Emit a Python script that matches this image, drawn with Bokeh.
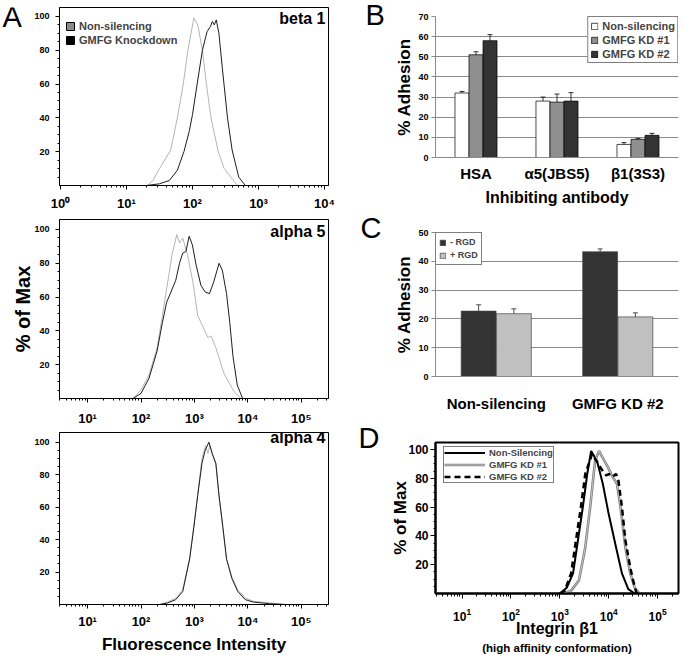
import math
import numpy as np
from bokeh.plotting import figure
from bokeh.models import (Range1d, FactorRange, FixedTicker, Label, Legend, LegendItem,
                          Whisker, TeeHead, ColumnDataSource, SingleIntervalTicker, Title)
from bokeh.layouts import row, column
from bokeh.transform import dodge
from bokeh.embed import file_html
from bokeh.resources import INLINE

FONT = "Liberation Sans"

# ---------------- data: panel A (flow histograms, log10 intensity / % of max) -------------
beta1_ns_log = [1.32, 1.4, 1.5, 1.67, 1.77, 1.86, 1.93, 2.02, 2.08, 2.15, 2.21, 2.28, 2.39, 2.48, 2.58, 2.68]
beta1_ns_pct = [0, 3, 10, 21, 40, 60, 80, 99, 95, 80, 60, 40, 20, 10, 5, 0]
beta1_kd_log = [1.3, 1.5, 1.65, 1.77, 1.87, 1.95, 2.0, 2.07, 2.15, 2.22, 2.27, 2.3, 2.33, 2.36, 2.4, 2.45, 2.53, 2.6, 2.7, 2.8]
beta1_kd_pct = [0, 1, 3, 9, 20, 32, 42, 60, 80, 91, 94, 97, 95, 98, 90, 70, 40, 21, 5, 0]

alpha5_ns_log = [1.85, 2.0, 2.15, 2.3, 2.4, 2.5, 2.58, 2.67, 2.72, 2.78, 2.87, 2.97, 3.06, 3.18, 3.25, 3.31, 3.4, 3.55, 3.74, 3.87]
alpha5_ns_pct = [0, 5, 14, 30, 49, 69, 85, 97, 92, 95, 85, 69, 49, 41, 36, 37, 30, 15, 4, 0]
alpha5_kd_log = [1.85, 2.0, 2.15, 2.3, 2.4, 2.48, 2.56, 2.65, 2.72, 2.78, 2.84, 2.9, 2.96, 3.03, 3.12, 3.2, 3.28, 3.36, 3.46, 3.52, 3.6, 3.66, 3.72, 3.8, 3.9]
alpha5_kd_pct = [0, 3, 12, 28, 45, 57, 63, 70, 80, 86, 87, 96, 91, 79, 67, 63, 62, 69, 80, 76, 62, 45, 25, 8, 0]

alpha4_ns_log = [2.35, 2.5, 2.65, 2.78, 2.91, 2.99, 3.06, 3.14, 3.21, 3.25, 3.29, 3.4, 3.46, 3.53, 3.6, 3.7, 3.81, 3.95, 4.1, 4.4, 4.7]
alpha4_ns_pct = [0, 1.5, 4, 9, 29, 49, 68, 90, 98, 93, 98, 86, 66, 47, 28, 17, 9, 4, 2, 1, 0]
alpha4_kd_log = [2.35, 2.5, 2.65, 2.78, 2.91, 2.99, 3.06, 3.14, 3.2, 3.27, 3.33, 3.4, 3.46, 3.53, 3.6, 3.7, 3.81, 3.95, 4.1, 4.4, 4.7]
alpha4_kd_pct = [0, 1, 3, 8, 28, 48, 67, 87, 95, 100, 93, 87, 67, 48, 28, 16, 8, 3, 1.5, 0.5, 0]

a_series = ["Non-silencing", "GMFG Knockdown"]

# ---------------- data: panel B ----------------
b_categories = ["HSA", "α5(JBS5)", "β1(3S3)"]
b_series = ["Non-silencing", "GMFG KD #1", "GMFG KD #2"]
b_nonsil = [32, 28, 6.5]
b_kd1 = [51, 27.5, 9]
b_kd2 = [58, 28, 11]
b_nonsil_err = [0.8, 2.0, 0.9]
b_kd1_err = [1.5, 4.0, 0.5]
b_kd2_err = [3.0, 4.2, 1.0]

# ---------------- data: panel C ----------------
c_categories = ["Non-silencing", "GMFG KD #2"]
c_series = ["- RGD", "+ RGD"]
c_minus_rgd = [22.7, 43.3]
c_plus_rgd = [21.8, 20.7]
c_minus_err = [2.2, 1.0]
c_plus_err = [1.7, 1.4]

# ---------------- data: panel D ----------------
d_series = ["Non-Silencing", "GMFG KD #1", "GMFG KD #2"]
d_ns_log = [3.0, 3.14, 3.27, 3.37, 3.47, 3.56, 3.64, 3.76, 3.88, 4.0, 4.15, 4.27, 4.4, 4.53]
d_ns_pct = [0, 4, 14, 37, 60, 83, 99, 92, 76, 55, 32, 14, 3, 0]
d_kd1_log = [3.05, 3.23, 3.39, 3.52, 3.62, 3.72, 3.8, 3.88, 3.98, 4.05, 4.1, 4.17, 4.24, 4.34, 4.44, 4.53, 4.63]
d_kd1_pct = [0, 2, 9, 32, 60, 92, 99, 94, 88, 83, 80, 76, 60, 32, 14, 4, 0]
d_kd2_log = [3.0, 3.1, 3.23, 3.33, 3.43, 3.52, 3.66, 3.75, 3.82, 3.9, 3.95, 4.0, 4.07, 4.15, 4.2, 4.27, 4.34, 4.44, 4.5, 4.56, 4.6]
d_kd2_pct = [0, 2, 14, 37, 60, 83, 97, 92, 88, 84, 82, 83, 81, 83, 78, 60, 37, 18, 9, 1, 0]

SUP = {0: "\u2070", 1: "\u00b9", 2: "\u00b2", 3: "\u00b3", 4: "\u2074", 5: "\u2075"}


def to_lin(logs):
    return [10 ** v for v in logs]


def make_fig(w, h, bl, br, bt, bb, **kw):
    p = figure(width=w, height=h, output_backend="svg", toolbar_location=None,
               min_border_left=bl, min_border_right=br, min_border_top=bt,
               min_border_bottom=bb, **kw)
    p.background_fill_color = "white"
    p.border_fill_color = "white"
    return p


def add_text(p, fl, fb, px, py, text, size, bold=True, align="center",
             baseline="middle", angle=0.0):
    p.add_layout(Label(x=px - fl, y=fb - py, x_units="screen", y_units="screen",
                       text=text, text_font=FONT, text_font_size=f"{size}px",
                       text_font_style="bold" if bold else "normal",
                       text_align=align, text_baseline=baseline, angle=angle,
                       text_color="black"))


def letter_fig(w, h):
    p = make_fig(w, h, 0, 0, 0, 0, x_range=Range1d(0, 1), y_range=Range1d(0, 1),
                 x_axis_location=None, y_axis_location=None)
    p.grid.visible = False
    p.outline_line_color = None
    return p


def style_axis_label(a, size, standoff):
    a.axis_label_text_font = FONT
    a.axis_label_text_font_size = f"{size}px"
    a.axis_label_text_font_style = "bold"
    a.axis_label_text_color = "black"
    a.axis_label_standoff = standoff


def flow_fig(w, h, bl, br, bt, bb, xlog0, xlog1, ytop, decades, xstand, lab_size,
             override=True, lw=1):
    p = make_fig(w, h, bl, br, bt, bb, x_axis_type="log",
                 x_range=Range1d(10 ** xlog0, 10 ** xlog1), y_range=Range1d(0, ytop))
    p.grid.visible = False
    p.outline_line_color = "black"
    p.outline_line_width = lw
    ax = p.xaxis[0]
    ay = p.yaxis[0]
    minors = [k * 10 ** dd for dd in range(min(decades) - 1, max(decades) + 1) for k in range(2, 10)]
    ax.ticker = FixedTicker(ticks=[10 ** dd for dd in decades], minor_ticks=minors)
    if override:
        ax.major_label_overrides = {10 ** dd: "10" + SUP[dd] for dd in decades}
    ay.ticker = FixedTicker(ticks=[20, 40, 60, 80, 100], minor_ticks=list(range(5, 105, 5)))
    for a in (ax, ay):
        a.axis_line_color = "black"
        a.axis_line_width = lw
        a.major_tick_line_color = "black"
        a.minor_tick_line_color = "black"
        a.major_tick_in = 0
        a.minor_tick_in = 0
        a.major_tick_out = 4
        a.minor_tick_out = 2
        a.major_label_text_font = FONT
        a.major_label_text_font_style = "bold"
        a.major_label_text_color = "black"
    ax.major_label_text_font_size = f"{lab_size}px"
    ax.major_label_standoff = xstand
    ay.major_label_text_font_size = "9px"
    ay.major_label_standoff = 6
    return p


NS_GRAY = "#b4b4b4"
KD_DARK = "#1e1e1e"

# ---------------- A1: beta 1 ----------------
# the letter plot's frame is aligned with a1's frame (top 7, bottom 185)
let_a = letter_fig(30, 218)
add_text(let_a, 0, 185, 2, 16, "A", 29, bold=False, align="left", baseline="middle")

a1 = flow_fig(310, 218, 29, 12, 7, 33, -0.015, 4.06, 105.3, [0, 1, 2, 3, 4], 6, 13)
a1.line(to_lin(beta1_ns_log), beta1_ns_pct, line_color=NS_GRAY, line_width=1)
a1.line(to_lin(beta1_kd_log), beta1_kd_pct, line_color=KD_DARK, line_width=1)
nan1 = np.array([np.nan])
q1 = a1.quad(left=nan1, right=nan1, top=nan1, bottom=nan1, fill_color="#8a8a8a", line_color="black")
q2 = a1.quad(left=nan1, right=nan1, top=nan1, bottom=nan1, fill_color="black", line_color="black")
leg_a = Legend(items=[LegendItem(label=a_series[0], renderers=[q1]),
                      LegendItem(label=a_series[1], renderers=[q2])],
               location=(6, 138), margin=0, padding=3, spacing=0,
               glyph_width=10, glyph_height=10, label_height=14, label_standoff=4,
               label_text_font=FONT, label_text_font_size="11px",
               label_text_font_style="bold", border_line_color=None,
               background_fill_alpha=0)
a1.add_layout(leg_a)
add_text(a1, 59, 185, 325, 18, "beta 1", 16, align="right")

# ---------------- A2: alpha 5 ----------------
a2 = flow_fig(340, 212, 59, 12, 1, 32, 0.475, 5.507, 105.9, [1, 2, 3, 4, 5], 8, 13)
a2.line(to_lin(alpha5_ns_log), alpha5_ns_pct, line_color=NS_GRAY, line_width=1)
a2.line(to_lin(alpha5_kd_log), alpha5_kd_pct, line_color=KD_DARK, line_width=1)
a2.yaxis[0].axis_label = "% of Max"
style_axis_label(a2.yaxis[0], 20, -3)
add_text(a2, 59, 398, 325, 231, "alpha 5", 16, align="right")

# ---------------- A3: alpha 4 ----------------
a3 = flow_fig(340, 226, 59, 12, 2, 46, 0.475, 5.507, 105.95, [1, 2, 3, 4, 5], 5, 13)
a3.line(to_lin(alpha4_ns_log), alpha4_ns_pct, line_color=NS_GRAY, line_width=1)
a3.line(to_lin(alpha4_kd_log), alpha4_kd_pct, line_color=KD_DARK, line_width=1)
a3.xaxis[0].axis_label = "Fluorescence Intensity"
style_axis_label(a3.xaxis[0], 17, 3)
add_text(a3, 59, 610, 325, 443, "alpha 4", 16, align="right")

# ---------------- B ----------------
GRID = "#8a8a8a"


def style_bar_axes(p, ysize="9px", xsize="15px", xstand=7):
    p.xgrid.visible = False
    p.ygrid.grid_line_color = GRID
    p.ygrid.grid_line_width = 1
    p.outline_line_color = None
    ay = p.yaxis[0]
    ax = p.xaxis[0]
    ay.ticker = SingleIntervalTicker(interval=10, num_minor_ticks=0)
    for a in (ax, ay):
        a.axis_line_color = GRID
        a.major_tick_line_color = GRID
        a.major_tick_in = 0
        a.major_label_text_font = FONT
        a.major_label_text_font_style = "bold"
        a.major_label_text_color = "black"
        a.minor_tick_line_color = None
    ay.major_tick_out = 4
    ay.major_label_text_font_size = ysize
    ay.major_label_standoff = 3
    ax.major_tick_line_color = None
    ax.major_tick_out = 0
    ax.major_label_text_font_size = xsize
    ax.major_label_standoff = xstand


let_bcd = letter_fig(48, 656)
add_text(let_bcd, 340, 656, 365, 14, "B", 29, bold=False, align="left", baseline="middle")
add_text(let_bcd, 340, 656, 360, 227, "C", 29, bold=False, align="left", baseline="middle")
add_text(let_bcd, 340, 656, 358, 437, "D", 29, bold=False, align="left", baseline="middle")

b = make_fig(296, 208, 46, 6, 16, 50, x_range=FactorRange(factors=b_categories, range_padding=0),
             y_range=Range1d(0, 70))
style_bar_axes(b, xsize="15px", xstand=7)
b.yaxis[0].axis_label = "% Adhesion"
style_axis_label(b.yaxis[0], 17, 1)
b.xaxis[0].axis_label = "Inhibiting antibody"
style_axis_label(b.xaxis[0], 16, 4)
bsrc = ColumnDataSource(dict(
    cat=b_categories, ns=b_nonsil, kd1=b_kd1, kd2=b_kd2,
    ns_lo=[m - e for m, e in zip(b_nonsil, b_nonsil_err)], ns_hi=[m + e for m, e in zip(b_nonsil, b_nonsil_err)],
    kd1_lo=[m - e for m, e in zip(b_kd1, b_kd1_err)], kd1_hi=[m + e for m, e in zip(b_kd1, b_kd1_err)],
    kd2_lo=[m - e for m, e in zip(b_kd2, b_kd2_err)], kd2_hi=[m + e for m, e in zip(b_kd2, b_kd2_err)],
))
BW = 0.173
b_cols = [("ns", "white", -BW), ("kd1", "#8f8f8f", 0.0), ("kd2", "#333333", BW)]
b_rends = []
for key, col, off in b_cols:
    r = b.vbar(x=dodge("cat", off, range=b.x_range), top=key, width=BW, source=bsrc,
               fill_color=col, line_color="black", line_width=0.7)
    b_rends.append(r)
    b.add_layout(Whisker(source=bsrc, base=dodge("cat", off, range=b.x_range),
                         upper=key + "_hi", lower=key + "_lo", line_color="black", line_width=0.8,
                         upper_head=TeeHead(size=5, line_color="black", line_width=0.8),
                         lower_head=TeeHead(size=5, line_color="black", line_width=0.8)))
leg_b = Legend(items=[LegendItem(label=s, renderers=[r]) for s, r in zip(b_series, b_rends)],
               location="top_right", margin=0, padding=2, spacing=1,
               glyph_width=8, glyph_height=8, label_height=13, label_standoff=4,
               label_text_font=FONT, label_text_font_size="11px", label_text_font_style="bold",
               border_line_color="black", border_line_width=1, background_fill_color="white",
               background_fill_alpha=1)
b.add_layout(leg_b)

# ---------------- C ----------------
c = make_fig(296, 212, 46, 6, 24, 44, x_range=FactorRange(factors=c_categories, range_padding=0),
             y_range=Range1d(0, 50))
style_bar_axes(c, xsize="15px", xstand=18)
c.yaxis[0].axis_label = "% Adhesion"
style_axis_label(c.yaxis[0], 17, 1)
csrc = ColumnDataSource(dict(
    cat=c_categories, m=c_minus_rgd, pl=c_plus_rgd,
    m_lo=[v - e for v, e in zip(c_minus_rgd, c_minus_err)], m_hi=[v + e for v, e in zip(c_minus_rgd, c_minus_err)],
    pl_lo=[v - e for v, e in zip(c_plus_rgd, c_plus_err)], pl_hi=[v + e for v, e in zip(c_plus_rgd, c_plus_err)],
))
CW = 0.287
c_rends = []
for key, col, off in [("m", "#333333", -0.145), ("pl", "#c0c0c0", 0.145)]:
    r = c.vbar(x=dodge("cat", off, range=c.x_range), top=key, width=CW, source=csrc,
               fill_color=col, line_color="#444444", line_width=0.7)
    c_rends.append(r)
    c.add_layout(Whisker(source=csrc, base=dodge("cat", off, range=c.x_range),
                         upper=key + "_hi", lower=key + "_lo", line_color="#222222", line_width=0.8,
                         upper_head=TeeHead(size=5, line_color="#222222", line_width=0.8),
                         lower_head=TeeHead(size=5, line_color="#222222", line_width=0.8)))
leg_c = Legend(items=[LegendItem(label=s, renderers=[r]) for s, r in zip(c_series, c_rends)],
               location="top_left", margin=0, padding=3, spacing=1,
               glyph_width=7, glyph_height=7, label_height=12, label_standoff=4,
               label_text_font=FONT, label_text_font_size="9px", label_text_font_style="bold",
               border_line_color="black", border_line_width=1, background_fill_color="white",
               background_fill_alpha=1)
c.add_layout(leg_c)

# ---------------- D ----------------
d = flow_fig(296, 236, 39, 1, 22, 63, 0.456, 5.427, 104.9, [1, 2, 3, 4, 5], 9, 12,
             override=False, lw=2)
d.yaxis[0].major_label_text_font_size = "12px"
d.yaxis[0].major_tick_out = 5
d.yaxis[0].major_label_standoff = 2
d.xaxis[0].major_tick_out = 5
d.xaxis[0].minor_tick_out = 3
d.yaxis[0].axis_label = "% of Max"
style_axis_label(d.yaxis[0], 17, -5)
d.xaxis[0].axis_label = "Integrin β1"
style_axis_label(d.xaxis[0], 16, -4)
d.add_layout(Title(text="(high affinity conformation)", align="center", standoff=0,
                   text_font=FONT, text_font_size="11.5px", text_font_style="bold",
                   text_color="black"), "below")
r_ns = d.line(to_lin(d_ns_log), d_ns_pct, line_color="black", line_width=2)
r_kd1 = d.line(to_lin(d_kd1_log), d_kd1_pct, line_color="#7e7e7e", line_width=2.6)
r_kd1_in = d.line(to_lin(d_kd1_log), d_kd1_pct, line_color="#d6d6d6", line_width=0.8)
r_kd2 = d.line(to_lin(d_kd2_log), d_kd2_pct, line_color="black", line_width=2.5, line_dash="6 4")
leg_d = Legend(items=[LegendItem(label=d_series[0], renderers=[r_ns]),
                      LegendItem(label=d_series[1], renderers=[r_kd1, r_kd1_in]),
                      LegendItem(label=d_series[2], renderers=[r_kd2])],
               location=(8, 110), margin=0, padding=0, spacing=1,
               glyph_width=41, glyph_height=11, label_height=11, label_standoff=4,
               label_text_font=FONT, label_text_font_size="9.5px", label_text_font_style="bold",
               border_line_color="black", border_line_width=1, background_fill_color="white",
               background_fill_alpha=1)
d.add_layout(leg_d)

left_col = column(row(let_a, a1, spacing=0), a2, a3, spacing=0)
right_col = row(let_bcd, column(b, c, d, spacing=0), spacing=0)
layout = row(left_col, right_col, spacing=0)

with open("out.html", "w") as f:
    f.write(file_html(layout, INLINE))
